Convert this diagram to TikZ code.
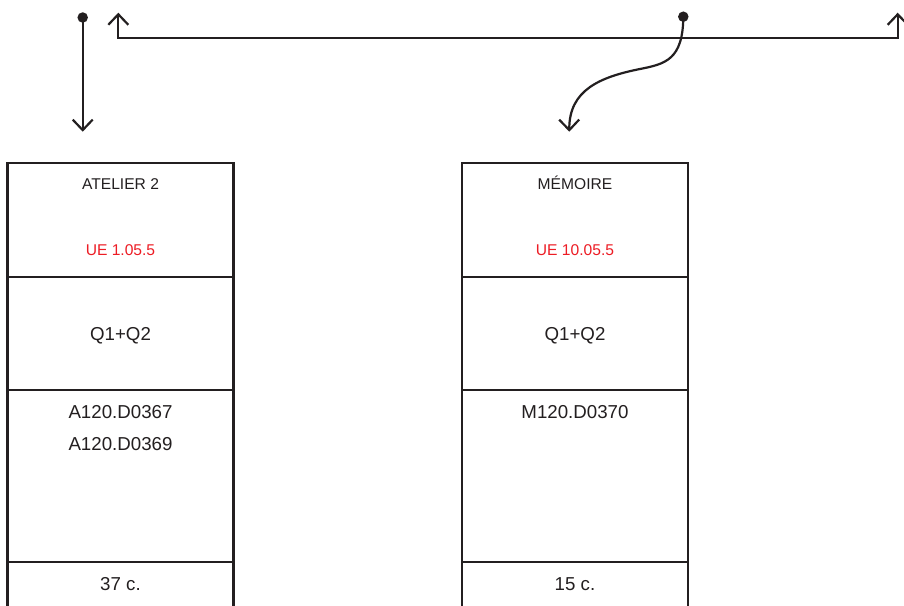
\documentclass[tikz,border=0pt]{standalone}
\usepackage{fontspec}
\setmainfont{Liberation Sans}
\usetikzlibrary{arrows.meta}
\definecolor{ink}{HTML}{231F20}
\definecolor{uered}{HTML}{ED1C24}
\begin{document}
\begin{tikzpicture}[x=1pt,y=-1pt,
  cell/.style={draw=ink, line width=2.2pt, minimum width=226pt, inner sep=0pt, anchor=north},
  lbl/.style={text=ink, font=\fontsize{15.6}{18}\selectfont, inner sep=0pt, anchor=base},
  big/.style={text=ink, font=\fontsize{18.7}{22}\selectfont, inner sep=0pt, anchor=base},
  code/.style={text=uered, font=\fontsize{15.6}{18}\selectfont, inner sep=0pt, anchor=base},
  barb/.tip={Straight Barb[length=10.5pt,width=20pt]},
  conn/.style={draw=ink, line width=2.2pt, -barb},
  dot/.style={circle, fill=ink, inner sep=0pt, minimum size=10.5pt}]
\useasboundingbox (0,0) rectangle (904,605);
\clip (0,0) rectangle (904,605);
\fill[white] (0,0) rectangle (904,605);

% left column
\node[cell, minimum height=113.5pt] (a1) at (120.5,162) {};
\node[cell, minimum height=113.5pt] (a2) at (120.5,275.5) {};
\node[cell, minimum height=172pt] (a3) at (120.5,389) {};
\node[cell, minimum height=90pt] (a4) at (120.5,561) {};
\node[lbl] (a1t) at (120.5,189) {ATELIER 2};
\node[code] (a1c) at (120.5,255) {UE 1.05.5};
\node[big] (a2t) at (120.5,340) {Q1+Q2};
\node[big] (a3t) at (120.5,418) {A120.D0367};
\node[big] (a3u) at (120.5,450) {A120.D0369};
\node[big] (a4t) at (120.5,590.5) {37 c.};

% right column
\node[cell, minimum height=113.5pt] (b1) at (575,162) {};
\node[cell, minimum height=113.5pt] (b2) at (575,275.5) {};
\node[cell, minimum height=172pt] (b3) at (575,389) {};
\node[cell, minimum height=90pt] (b4) at (575,561) {};
\node[lbl] (b1t) at (575,189) {MÉMOIRE};
\node[code] (b1c) at (575,255) {UE 10.05.5};
\node[big] (b2t) at (575,340) {Q1+Q2};
\node[big] (b3t) at (575,418) {M120.D0370};
\node[big] (b4t) at (575,590.5) {15 c.};

% connectors
\node[dot] (d1) at (82.7,17.5) {};
\coordinate (t1) at (82.7,131.7);
\draw[conn] (d1.center) -- (t1);

\coordinate (u1) at (118.3,12.7);
\coordinate (u2) at (897.7,12.7);
\coordinate (bar) at (500,38.3);
\draw[conn, barb-barb] (u1) -- (u1 |- bar) -- (u2 |- bar) -- (u2);

\node[dot] (d2) at (683.3,16.7) {};
\coordinate (m2) at (640,69);
\coordinate (t2) at (569.3,131.7);
\draw[conn] (d2.center) .. controls (683,60) and (665,64) .. (m2)
  .. controls (600,77) and (569,90) .. (t2);
\end{tikzpicture}
\end{document}
